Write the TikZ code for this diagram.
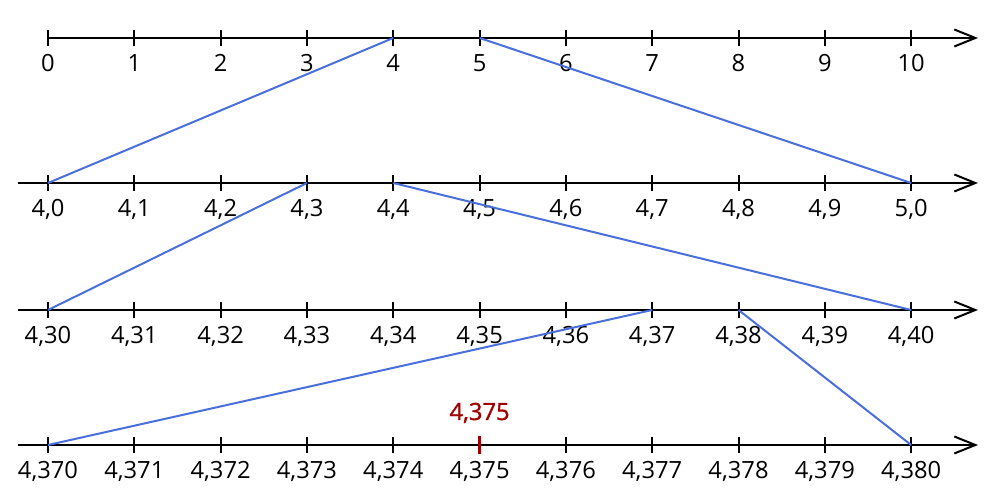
\documentclass[tikz,border=0pt]{standalone}
\usepackage{fontspec}
\setmainfont{Open Sans}
\usetikzlibrary{arrows.meta}
\definecolor{zoomblue}{HTML}{4A6FDC}
\definecolor{markred}{HTML}{A00000}
\tikzset{
  axis/.style={line width=0.04cm,-{Straight Barb[length=0.42cm,width=0.34cm,line width=0.04cm]}},
  tickmark/.style={line width=0.04cm},
  ticklab/.style={anchor=north,inner sep=0pt,yshift=-0.32cm},
  zoomline/.style={zoomblue,line width=0.04cm},
}
% #1 name, #2 height, #3 left end, #4 label prefix, #5 last label
\newcommand{\numline}[5]{%
  \draw[axis] (#3,#2) -- (19.56,#2);
  \foreach \i in {0,...,10} {
    \coordinate (#1-\i) at ({0.96+1.7263*\i},#2);
    \draw[tickmark] ([yshift=0.16cm]#1-\i) -- ([yshift=-0.16cm]#1-\i);
  }
  \foreach \i in {0,...,9} \node[ticklab] (#1-lab\i) at (#1-\i) {#4\i};
  \node[ticklab] (#1-lab10) at (#1-10) {#5};
}
\begin{document}
\begin{tikzpicture}[font=\fontsize{13.5pt}{16pt}\selectfont]
\useasboundingbox (0,0) rectangle (20,10);
\numline{a}{9.24}{0.96}{}{10}
\numline{b}{6.34}{0.36}{4,}{5,0}
\numline{c}{3.80}{0.36}{4,3}{4,40}
\numline{d}{1.10}{0.36}{4,37}{4,380}

% zooming in
\draw[zoomline] (a-4) -- (b-0);
\draw[zoomline] (a-5) -- (b-10);
\draw[zoomline] (b-3) -- (c-0);
\draw[zoomline] (b-4) -- (c-10);
\draw[zoomline] (c-7) -- (d-0);
\draw[zoomline] (c-8) -- (d-10);

% the point found
\draw[markred,line width=0.06cm] ([yshift=0.18cm]d-5) -- ([yshift=-0.18cm]d-5);
\node[markred,anchor=base,inner sep=0pt] (found) at ([yshift=0.5cm]d-5) {\addfontfeature{FakeBold=1.2}4,375};
\end{tikzpicture}
\end{document}
